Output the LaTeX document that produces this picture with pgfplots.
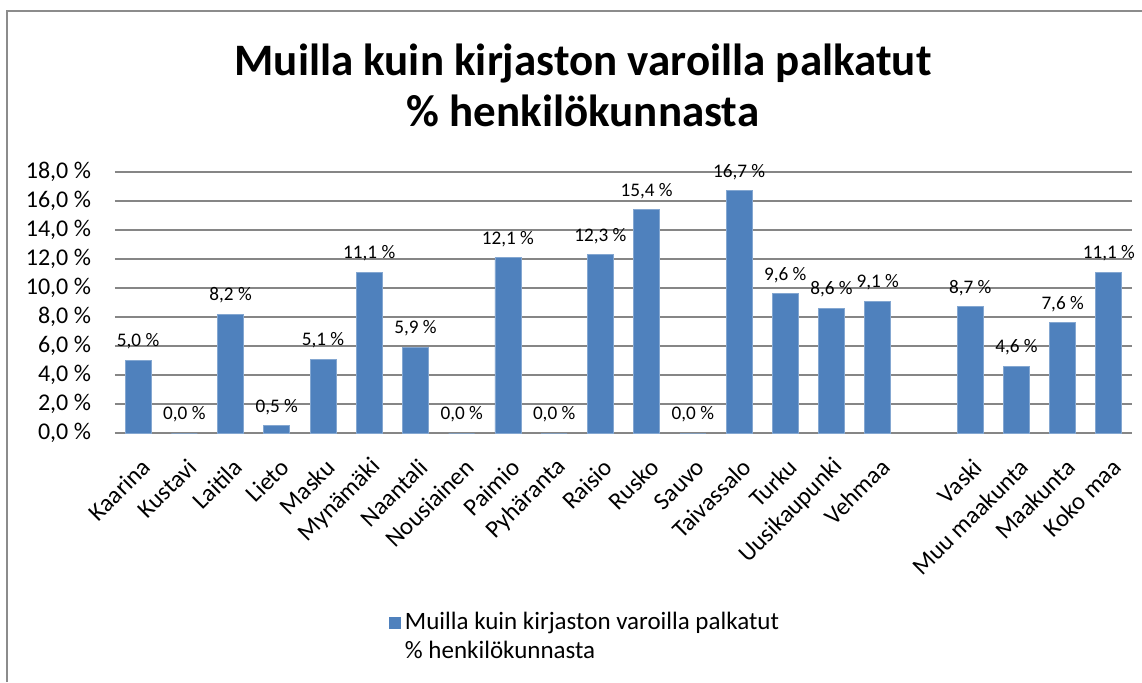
\documentclass[border=0pt]{standalone}
\usepackage{pgfplots}
\pgfplotsset{compat=1.18}
\usepackage{fontspec}
\setmainfont{Carlito}
\definecolor{barblue}{HTML}{4F81BD}
\definecolor{gridgray}{HTML}{868686}
\definecolor{bordergray}{HTML}{8C8C8C}
\begin{document}
\begin{tikzpicture}
\useasboundingbox (0,0) rectangle (571pt,341pt);
\draw[bordergray, line width=1pt] (3.5pt,0) -- (3.5pt,335.5pt) -- (571pt,335.5pt);
\node[font=\fontsize{22.5}{26}\selectfont\bfseries, anchor=base, inner sep=0pt] at (291.5pt,303pt) {Muilla kuin kirjaston varoilla palkatut};
\node[font=\fontsize{22.5}{26}\selectfont\bfseries, anchor=base, inner sep=0pt] at (291.5pt,278pt) {\% henkilökunnasta};
\begin{axis}[
  at={(57.5pt,124.5pt)}, anchor=south west,
  scale only axis, width=508.5pt, height=130.5pt,
  xmin=-0.5, xmax=21.5, ymin=0, ymax=18,
  ytick={0,2,...,18},
  xtick=data,
  xticklabels={Kaarina,Kustavi,Laitila,Lieto,Masku,Mynämäki,Naantali,Nousiainen,Paimio,Pyhäranta,Raisio,Rusko,Sauvo,Taivassalo,Turku,Uusikaupunki,Vehmaa,Vaski,Muu maakunta,Maakunta,Koko maa},
  /pgf/number format/assume math mode=true,
  yticklabel={\pgfmathprintnumber[fixed,fixed zerofill,precision=1,use comma]{\tick}~\%},
  yticklabel style={font=\fontsize{12}{14}\selectfont, xshift=-8.5pt},
  xticklabel style={font=\fontsize{12.3}{14}\selectfont, inner sep=0pt, xshift=4pt, yshift=-15pt, rotate=45, anchor=east},
  axis line style={draw=none},
  major tick length=0pt,
  ymajorgrids,
  grid style={draw=gridgray, line width=0.75pt},
  ybar, bar width=13pt,
  nodes near coords={\pgfmathprintnumber[fixed,fixed zerofill,precision=1,use comma]{\pgfplotspointmeta}~\%},
  nodes near coords style={font=\fontsize{9.6}{11}\selectfont, yshift=2pt},
  point meta=y,
  legend style={at={(0.269,-0.67)}, anchor=north west, draw=none, fill=none, inner sep=0pt,
    font=\fontsize{12.5}{14.5}\selectfont, cells={align=left},
    /tikz/every odd column/.append style={column sep=0pt}},
  legend cell align=left,
  legend image code/.code={\path[draw=none,fill=none] (0pt,-10pt) rectangle (6pt,10pt); \fill[barblue,draw=none] (0pt,4pt) rectangle (6pt,10pt);},
]
\addplot[fill=barblue, draw=barblue!70!white, line width=0.4pt] coordinates {
(0,5.0) (1,0.0) (2,8.2) (3,0.5) (4,5.1) (5,11.1) (6,5.9) (7,0.0) (8,12.1) (9,0.0) (10,12.3) (11,15.4) (12,0.0) (13,16.7) (14,9.6) (15,8.6) (16,9.1) (18,8.7) (19,4.6) (20,7.6) (21,11.1)
};
\addlegendentry{Muilla kuin kirjaston varoilla palkatut\\\% henkilökunnasta}
\end{axis}
\end{tikzpicture}
\end{document}
